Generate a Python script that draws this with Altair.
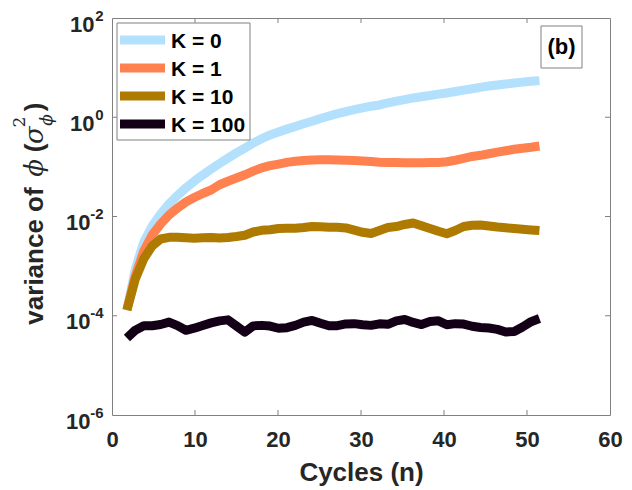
import altair as alt
import numpy as np
import pandas as pd

# ---------------- data ----------------
cycles = [round(float(v), 2) for v in np.linspace(1.8, 51.5, 50)]

k0 = [1.3e-4, 8.74e-4, 3.06e-3, 6.43e-3, 1.12e-2, 1.79e-2, 2.65e-2, 3.76e-2, 5.15e-2, 6.87e-2,
      8.99e-2, 0.117, 0.150, 0.191, 0.240, 0.301, 0.369, 0.440, 0.506, 0.576,
      0.653, 0.740, 0.830, 0.946, 1.06, 1.18, 1.30, 1.42, 1.54, 1.67,
      1.77, 1.94, 2.11, 2.27, 2.45, 2.59, 2.75, 2.92, 3.09, 3.30,
      3.52, 3.75, 3.99, 4.26, 4.48, 4.69, 4.89, 5.10, 5.29, 5.47]

k1 = [1.35e-4, 6.37e-4, 2.01e-3, 4.24e-3, 7.06e-3, 1.07e-2, 1.48e-2, 1.96e-2, 2.41e-2, 2.91e-2,
      3.42e-2, 4.37e-2, 5.13e-2, 5.96e-2, 6.92e-2, 8.22e-2, 9.55e-2, 0.106, 0.114, 0.123,
      0.130, 0.135, 0.138, 0.139, 0.139, 0.138, 0.136, 0.134, 0.132, 0.128,
      0.124, 0.123, 0.122, 0.121, 0.121, 0.121, 0.122, 0.123, 0.127, 0.136,
      0.148, 0.162, 0.171, 0.184, 0.198, 0.211, 0.226, 0.238, 0.249, 0.264]

k10 = [1.30e-4, 5.49e-4, 1.41e-3, 2.54e-3, 3.52e-3, 3.81e-3, 3.81e-3, 3.72e-3, 3.65e-3, 3.72e-3,
       3.79e-3, 3.69e-3, 3.77e-3, 3.95e-3, 4.18e-3, 4.87e-3, 5.27e-3, 5.42e-3, 5.73e-3, 5.78e-3,
       5.78e-3, 6.00e-3, 6.31e-3, 6.22e-3, 6.09e-3, 6.06e-3, 5.89e-3, 5.32e-3, 4.80e-3, 4.54e-3,
       5.22e-3, 6.00e-3, 6.28e-3, 6.90e-3, 7.40e-3, 6.49e-3, 5.73e-3, 5.03e-3, 4.48e-3, 5.22e-3,
       6.28e-3, 6.68e-3, 6.74e-3, 6.43e-3, 6.14e-3, 5.92e-3, 5.73e-3, 5.55e-3, 5.37e-3, 5.22e-3]

k100 = [3.55e-5, 5.13e-5, 6.29e-5, 6.29e-5, 6.65e-5, 7.46e-5, 6.34e-5, 5.10e-5, 5.60e-5, 6.37e-5,
        7.19e-5, 7.89e-5, 8.26e-5, 6.22e-5, 4.67e-5, 6.25e-5, 6.40e-5, 6.19e-5, 5.60e-5, 5.75e-5,
        6.40e-5, 7.43e-5, 8.04e-5, 7.06e-5, 6.29e-5, 6.31e-5, 6.84e-5, 6.93e-5, 6.59e-5, 6.40e-5,
        6.87e-5, 6.71e-5, 7.89e-5, 8.38e-5, 7.33e-5, 6.65e-5, 7.64e-5, 7.89e-5, 6.59e-5, 6.93e-5,
        6.81e-5, 6.14e-5, 5.78e-5, 5.65e-5, 5.32e-5, 4.71e-5, 4.82e-5, 5.94e-5, 7.60e-5, 8.79e-5]

series_names = ["K = 0", "K = 1", "K = 10", "K = 100"]
series_values = [k0, k1, k10, k100]
series_colors = ["#b3e0fc", "#ff8150", "#ae7b00", "#130016"]

x_ticks = [0, 10, 20, 30, 40, 50, 60]
x_inner_ticks = [10, 20, 30, 40, 50]
y_exponents = [2, 0, -2, -4, -6]
y_inner_ticks = [1e0, 1e-2, 1e-4]

# ---------------- styling ----------------
W, H = 498, 397
FRAME = "#808080"
TXT = "#262626"
SANS = "Liberation Sans"
SERIF = "DejaVu Serif"

xscale = alt.Scale(domain=[0, 60], nice=False)
yscale = alt.Scale(type="log", domain=[1e-6, 1e2], nice=False)
xaxis = alt.Axis(values=x_ticks, format="d", title="Cycles (n)",
                 labelFont=SANS, labelFontSize=22, labelFontWeight="bold", labelColor=TXT,
                 ticks=False, tickSize=0, domain=False, grid=False, labelPadding=14,
                 labelOverlap=False, labelFlush=False, labelBound=False,
                 titleFont=SANS, titleFontSize=26, titleFontWeight="bold", titleColor=TXT,
                 titlePadding=9)

X = alt.X("n:Q", scale=xscale, axis=xaxis)
Y = alt.Y("v:Q", scale=yscale, axis=None)

one = alt.Data(values=[{}])
layers = []

# data lines
for name, vals, col in zip(series_names, series_values, series_colors):
    df = pd.DataFrame({"n": cycles, "v": vals, "K": name})
    layers.append(alt.Chart(df).mark_line(color=col, strokeWidth=9, strokeJoin="round",
                                          strokeCap="butt", clip=True).encode(x=X, y=Y))

# inward ticks
dxt = pd.DataFrame({"n": x_inner_ticks})
layers.append(alt.Chart(dxt).mark_rule(color=FRAME, strokeWidth=1).encode(
    x=X, y=alt.value(H), y2=alt.value(H - 5)))
layers.append(alt.Chart(dxt).mark_rule(color=FRAME, strokeWidth=1).encode(
    x=X, y=alt.value(0), y2=alt.value(5)))
dyt = pd.DataFrame({"v": y_inner_ticks})
layers.append(alt.Chart(dyt).mark_rule(color=FRAME, strokeWidth=1).encode(
    y=Y, x=alt.value(0), x2=alt.value(5)))
layers.append(alt.Chart(dyt).mark_rule(color=FRAME, strokeWidth=1).encode(
    y=Y, x=alt.value(W), x2=alt.value(W - 5)))

# y tick labels 10^k
ylab = pd.DataFrame({"v": [10.0 ** e for e in y_exponents],
                     "e": [str(e) for e in y_exponents],
                     "neg": [e < 0 for e in y_exponents]})
layers.append(alt.Chart(ylab).mark_text(font=SANS, fontSize=15, fontWeight="bold", color=TXT,
                                        align="right", baseline="alphabetic", dy=2.5).encode(
    y=Y, x=alt.value(-8.5), text="e:N"))
layers.append(alt.Chart(ylab[~ylab["neg"]]).mark_text(font=SANS, fontSize=22, fontWeight="bold",
                                                      color=TXT, align="right",
                                                      baseline="alphabetic", dy=13.5).encode(
    y=Y, x=alt.value(-17.5), text=alt.value("10")))
layers.append(alt.Chart(ylab[ylab["neg"]]).mark_text(font=SANS, fontSize=22, fontWeight="bold",
                                                     color=TXT, align="right",
                                                     baseline="alphabetic", dy=13.5).encode(
    y=Y, x=alt.value(-21.5), text=alt.value("10")))

# y axis title pieces (rotated)
def ytext(txt, xpos, ypos, size, font, style="normal", weight="bold"):
    return alt.Chart(one).mark_text(font=font, fontSize=size, fontStyle=style, fontWeight=weight,
                                    color=TXT, angle=270, align="center",
                                    baseline="alphabetic").encode(
        x=alt.value(xpos), y=alt.value(ypos), text=alt.value(txt))

layers += [
    ytext("variance of", -69, 238, 26, SANS),
    ytext("\u03d5", -69, 150, 26, SERIF, "italic", "normal"),
    ytext("(", -69, 130, 26, SANS),
    ytext("\u03c3", -69, 117, 26, SERIF, "italic", "normal"),
    ytext("2", -87, 104, 17, SERIF, "normal", "normal"),
    ytext("\u03d5", -60, 102, 17, SERIF, "italic", "normal"),
    ytext(")", -69, 89, 26, SANS),
]

# legend (manual, MATLAB style)
layers.append(alt.Chart(one).mark_rect(fill="white", stroke=FRAME, strokeWidth=1).encode(
    x=alt.value(5), x2=alt.value(138), y=alt.value(5), y2=alt.value(122)))
row_y = [22, 50, 78, 106]
for name, col, ry in zip(series_names, series_colors, row_y):
    layers.append(alt.Chart(one).mark_rule(color=col, strokeWidth=9).encode(
        x=alt.value(8), x2=alt.value(53), y=alt.value(ry)))
    layers.append(alt.Chart(one).mark_text(font=SANS, fontSize=21, fontWeight="bold",
                                           color="black", align="left",
                                           baseline="alphabetic").encode(
        x=alt.value(59), y=alt.value(ry + 7.5), text=alt.value(name)))

# (b) label
layers.append(alt.Chart(one).mark_rect(fill="white", stroke=FRAME, strokeWidth=1).encode(
    x=alt.value(429), x2=alt.value(470), y=alt.value(8), y2=alt.value(50)))
layers.append(alt.Chart(one).mark_text(font=SANS, fontSize=22, fontWeight="bold", color="black",
                                       align="center", baseline="middle").encode(
    x=alt.value(449.5), y=alt.value(29), text=alt.value("(b)")))

chart = alt.layer(*layers).properties(
    width=W, height=H,
    padding={"left": 104, "top": 10, "right": 14, "bottom": 74},
    autosize=alt.AutoSizeParams(type="none"),
    background="white",
).configure_view(stroke=FRAME, strokeWidth=1)

chart.save("out.html", embed_options={"renderer": "svg", "actions": False})
